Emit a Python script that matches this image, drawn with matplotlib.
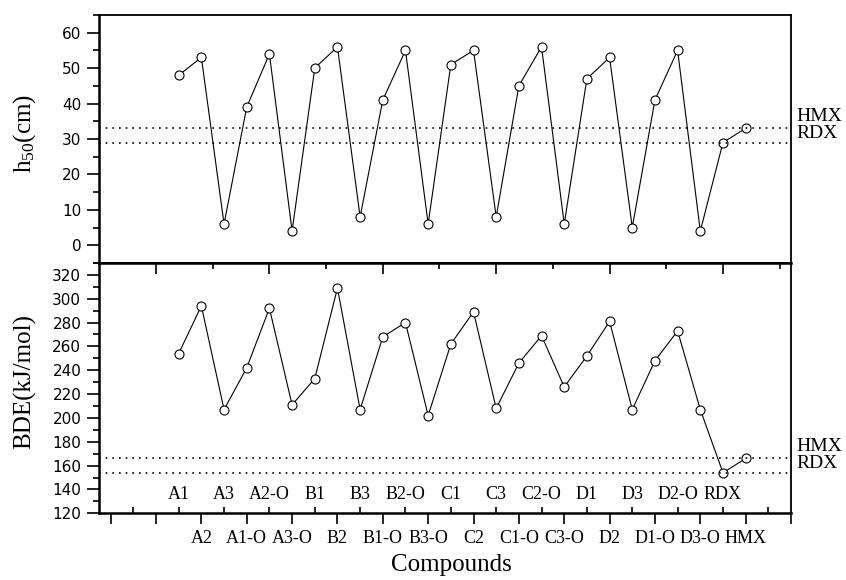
import numpy as np
import matplotlib
matplotlib.use('Agg')
import matplotlib.pyplot as plt
from matplotlib.ticker import MultipleLocator, FixedLocator, NullFormatter

plt.rcParams['mathtext.fontset'] = 'custom'
plt.rcParams['mathtext.rm'] = 'Liberation Serif'
plt.rcParams['mathtext.it'] = 'Liberation Serif:italic'

# Data
compounds = ['A1', 'A2', 'A3', 'A1-O', 'A2-O', 'A3-O',
             'B1', 'B2', 'B3', 'B1-O', 'B2-O', 'B3-O',
             'C1', 'C2', 'C3', 'C1-O', 'C2-O', 'C3-O',
             'D1', 'D2', 'D3', 'D1-O', 'D2-O', 'D3-O',
             'RDX', 'HMX']
h50 = [48, 53, 6, 39, 54, 4,
       50, 56, 8, 41, 55, 6,
       51, 55, 8, 45, 56, 6,
       47, 53, 5, 41, 55, 4,
       29, 33]
bde = [254, 294, 207, 242, 292, 211,
       233, 309, 207, 268, 280, 202,
       262, 289, 208, 246, 269, 226,
       252, 281, 207, 248, 273, 207,
       154, 166]
ref_names = ['HMX', 'RDX']
h50_ref = [33, 29]
bde_ref = [166, 154]

serif = 'Liberation Serif'
tick_font = 'DejaVu Sans'

x = np.arange(1, len(compounds) + 1)

fig = plt.figure(figsize=(8.46, 5.8), dpi=100)
ax1 = fig.add_axes([0.1174, 0.5466, 0.8176, 0.4276])
ax2 = fig.add_axes([0.1174, 0.1150, 0.8176, 0.4316])
ax2.patch.set_visible(False)

line_kw = dict(color='black', lw=0.8, marker='o', ms=6.5, mfc='white',
               mec='black', mew=0.8, zorder=3)
ref_kw = dict(color='black', lw=1.2, linestyle=(0, (1, 3)), zorder=4)

# top panel: impact sensitivity
ax1.plot(x, h50, **line_kw)
for v in h50_ref:
    ax1.axhline(v, **ref_kw)
ax1.set_xlim(-2.5, 28)
ax1.set_ylim(-5, 65)
ax1.yaxis.set_major_locator(MultipleLocator(10))
ax1.yaxis.set_minor_locator(MultipleLocator(5))
ax1.xaxis.set_major_locator(FixedLocator([0, 5, 10, 15, 20, 25]))
ax1.xaxis.set_minor_locator(FixedLocator([2.5, 7.5, 12.5, 17.5, 22.5, 27.5]))
ax1.xaxis.set_major_formatter(NullFormatter())
ax1.tick_params(axis='x', which='major', direction='out', length=8, width=1.2)
ax1.tick_params(axis='x', which='minor', direction='out', length=4, width=1.2)

# bottom panel: bond dissociation energy
ax2.plot(x, bde, **line_kw)
for v in bde_ref:
    ax2.axhline(v, **ref_kw)
ax2.set_xlim(-2.5, 28)
ax2.set_ylim(120, 330)
ax2.yaxis.set_major_locator(MultipleLocator(20))
ax2.yaxis.set_minor_locator(MultipleLocator(10))

major_pos = list(range(-2, 29, 2))
major_lab = [compounds[p - 1] if 1 <= p <= len(compounds) else '' for p in major_pos]
ax2.set_xticks(major_pos)
ax2.set_xticklabels(major_lab, fontsize=13, fontfamily=serif)
ax2.xaxis.set_minor_locator(FixedLocator(list(range(-1, 28, 2))))
ax2.tick_params(axis='x', which='major', direction='out', length=8, width=1.2, pad=4)
ax2.tick_params(axis='x', which='minor', direction='in', length=4, width=1.2)
for p in range(1, len(compounds) + 1, 2):
    ax2.text(p, 136, compounds[p - 1], ha='center', va='center',
             fontsize=13, fontfamily=serif)

for ax in (ax1, ax2):
    ax.tick_params(axis='y', which='major', direction='out', length=9, width=1.2,
                   labelsize=11, pad=4)
    ax.tick_params(axis='y', which='minor', direction='out', length=4.5, width=1.2)
    for lab in ax.get_yticklabels():
        lab.set_fontfamily(tick_font)
    for s in ('left', 'bottom'):
        ax.spines[s].set_linewidth(1.8)
    for s in ('top', 'right'):
        ax.spines[s].set_linewidth(1.3)

# reference labels at the right, stacked as one text block
for ax, refs in ((ax1, h50_ref), (ax2, bde_ref)):
    ax.annotate('\n'.join(ref_names), xy=(1, np.mean(refs)),
                xycoords=('axes fraction', 'data'),
                xytext=(4, 7.5), textcoords='offset points',
                ha='left', va='center', fontsize=14, fontfamily=serif,
                linespacing=1.0, annotation_clip=False)

fig.text(0.0296, 0.770, r'h$_\mathregular{50}$(cm)', rotation=90,
         ha='center', va='center', fontsize=18, fontfamily=serif)
fig.text(0.0296, 0.343, 'BDE(kJ/mol)', rotation=90,
         ha='center', va='center', fontsize=18, fontfamily=serif)
fig.text(0.534, 0.016, 'Compounds', ha='center', va='baseline',
         fontsize=18, fontfamily=serif)

fig.savefig('out.png', dpi=100)
